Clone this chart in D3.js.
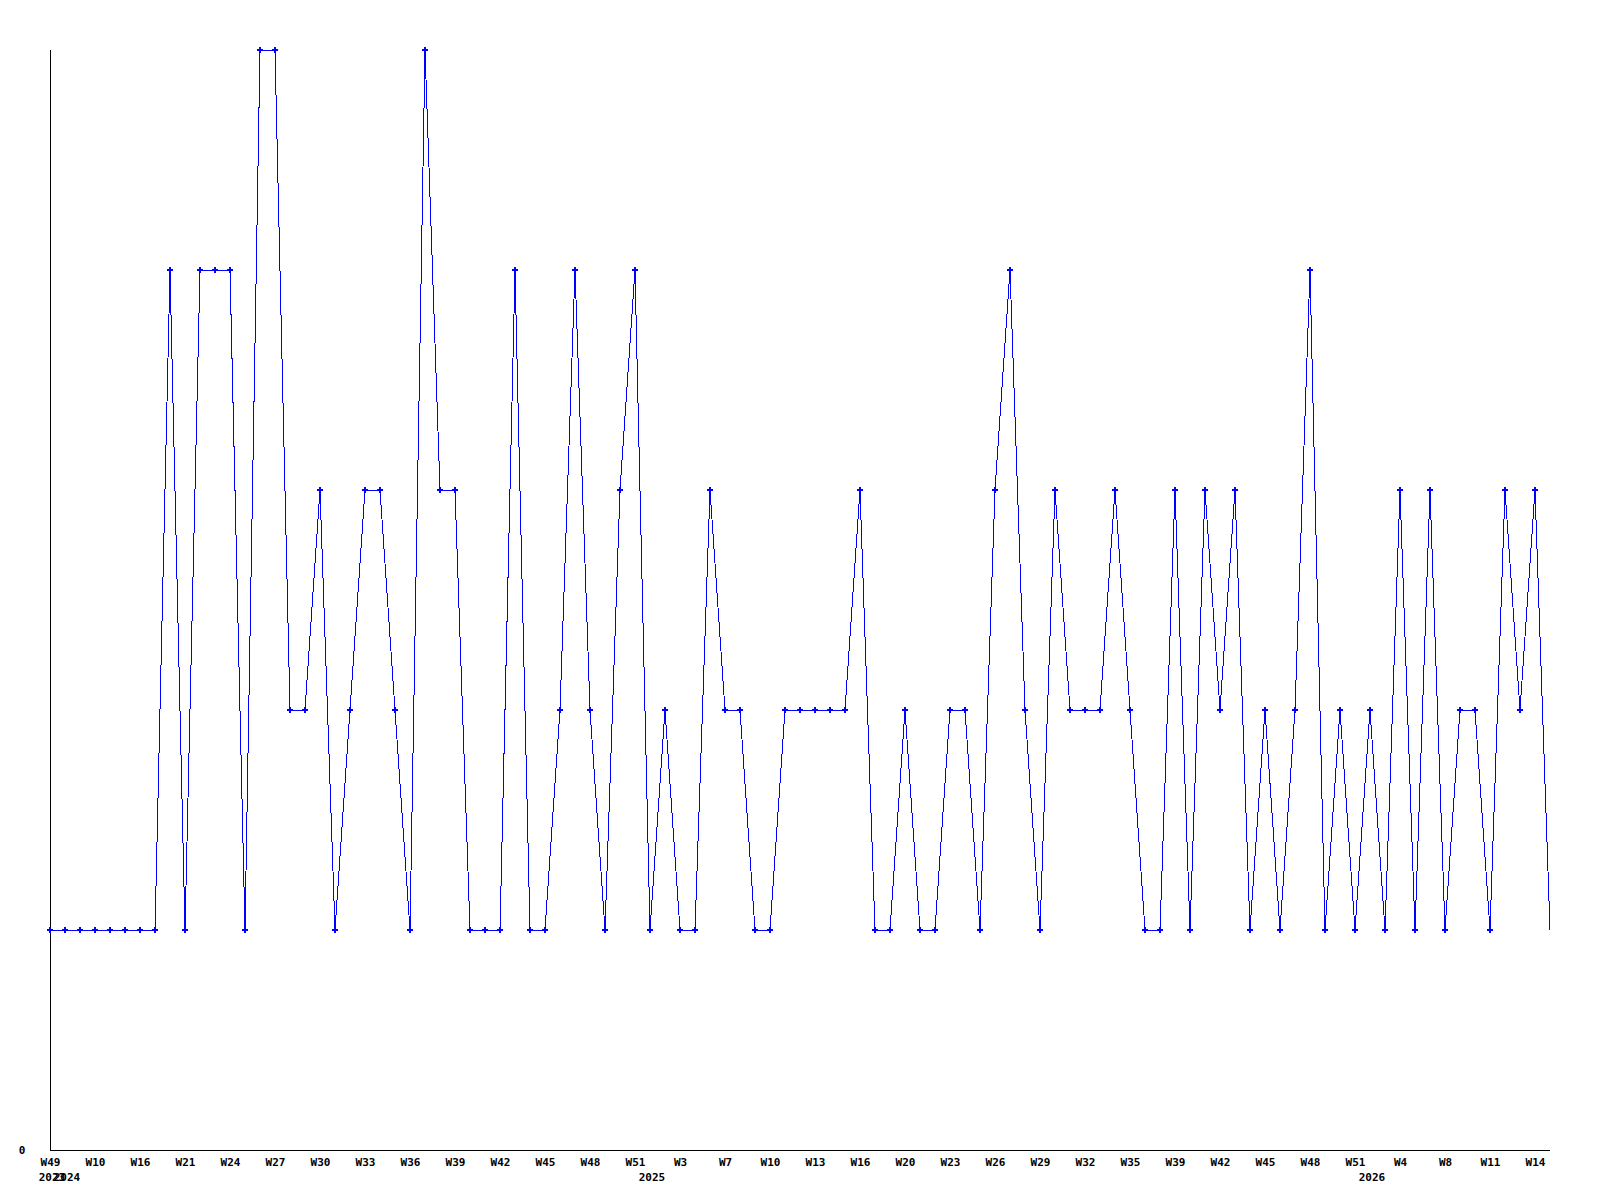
<!DOCTYPE html>
<meta charset="utf-8">
<script src="https://d3js.org/d3.v7.min.js"></script>
<style>
body { margin: 0; background: #fff; }
text { font-family: "DejaVu Sans Mono", monospace; font-weight: bold; font-size: 11px; fill: #000; }
</style>
<div id="chart"></div>
<script>

// one entry per point: year-week
var weeks = [
  "2023-W49","2024-W2","2024-W6","2024-W10","2024-W12","2024-W14","2024-W16","2024-W18","2024-W20",
  "2024-W21","2024-W22","2024-W23","2024-W24","2024-W25","2024-W26","2024-W27","2024-W28","2024-W29",
  "2024-W30","2024-W31","2024-W32","2024-W33","2024-W34","2024-W35","2024-W36","2024-W37","2024-W38",
  "2024-W39","2024-W40","2024-W41","2024-W42","2024-W43","2024-W44","2024-W45","2024-W46","2024-W47",
  "2024-W48","2024-W49","2024-W50","2024-W51",
  "2025-W1","2025-W2","2025-W3","2025-W4","2025-W6","2025-W7","2025-W8","2025-W9","2025-W10",
  "2025-W11","2025-W12","2025-W13","2025-W14","2025-W15","2025-W16","2025-W17","2025-W18","2025-W20",
  "2025-W21","2025-W22","2025-W23","2025-W24","2025-W25","2025-W26","2025-W27","2025-W28","2025-W29",
  "2025-W30","2025-W31","2025-W32","2025-W33","2025-W34","2025-W35","2025-W36","2025-W37","2025-W39",
  "2025-W40","2025-W41","2025-W42","2025-W43","2025-W44","2025-W45","2025-W46","2025-W47","2025-W48",
  "2025-W49","2025-W50","2025-W51",
  "2026-W1","2026-W2","2026-W4","2026-W5","2026-W6","2026-W8","2026-W9","2026-W10","2026-W11",
  "2026-W12","2026-W13","2026-W14","2026-W15"
];

var counts = [
  1,1,1,1,1,1,1,1,4,1,
  4,4,4,1,5,5,2,2,3,1,
  2,3,3,2,1,5,3,3,1,1,
  1,4,1,1,2,4,2,1,3,4,
  1,2,1,1,3,2,2,1,1,2,
  2,2,2,2,3,1,1,2,1,1,
  2,2,1,3,4,2,1,3,2,2,
  2,3,2,1,1,3,1,3,2,3,
  1,2,1,2,4,1,2,1,2,1,
  3,1,3,1,2,2,1,3,2,3,
  1
];

// axis range
var yMin = 0, yMax = 5;

var data = weeks.map(function(w, i) {
  return { key: w, year: w.split("-")[0], week: w.split("-")[1], value: counts[i] };
});

var width = 1600, height = 1200;
var margin = {left: 50, right: 1550, top: 50, bottom: 1150};

var svg = d3.select("#chart")
  .append("svg")
    .attr("width", width)
    .attr("height", height);

var x = d3.scalePoint()
  .domain(weeks)
  .range([margin.left, margin.right]);

var y = d3.scaleLinear()
  .domain([yMin, yMax])
  .range([margin.bottom, margin.top]);

// y axis: only the 0 label
svg.append("line")
  .attr("x1", margin.left + 0.5).attr("x2", margin.left + 0.5)
  .attr("y1", margin.top).attr("y2", margin.bottom)
  .attr("stroke", "#000")
  .attr("shape-rendering", "crispEdges");
svg.append("text")
  .attr("x", 22)
  .attr("y", y(yMin) + 4)
  .attr("text-anchor", "middle")
  .text(yMin);

// x axis
var xAxis = d3.axisBottom(x)
  .tickValues(weeks.filter(function(d, i) { return i % 3 === 0; }))
  .tickSize(0)
  .tickPadding(8)
  .tickFormat(function(d) { return d.split("-")[1]; });

var gx = svg.append("g")
  .attr("transform", "translate(0," + (margin.bottom + 0.5) + ")")
  .call(xAxis);
gx.select(".domain")
  .attr("d", "M" + margin.left + ",0H" + margin.right)
  .attr("shape-rendering", "crispEdges");
gx.selectAll("text")
  .attr("font-family", null)
  .attr("font-size", null);

// year labels where the year changes
svg.append("g")
  .selectAll("text")
  .data(data.filter(function(d, i) { return i === 0 || d.year !== data[i - 1].year; }))
  .enter()
  .append("text")
    .attr("x", function(d) { return x(d.key) + 2; })
    .attr("y", 1181)
    .attr("text-anchor", "middle")
    .text(function(d) { return d.year; });

// line
var line = d3.line()
  .x(function(d) { return x(d.key); })
  .y(function(d) { return y(d.value); });

svg.append("path")
  .datum(data)
  .attr("fill", "none")
  .attr("stroke", "#0000ff")
  .attr("stroke-width", 1)
  .attr("shape-rendering", "crispEdges")
  .attr("d", line);

// point markers (last point is drawn without one)
svg.append("g")
  .selectAll("path")
  .data(data.slice(0, -1))
  .enter()
  .append("path")
    .attr("d", d3.symbol().type(d3.symbolCross).size(20))
    .attr("transform", function(d) { return "translate(" + x(d.key) + "," + y(d.value) + ")"; })
    .attr("fill", "#0000ff");

</script>
